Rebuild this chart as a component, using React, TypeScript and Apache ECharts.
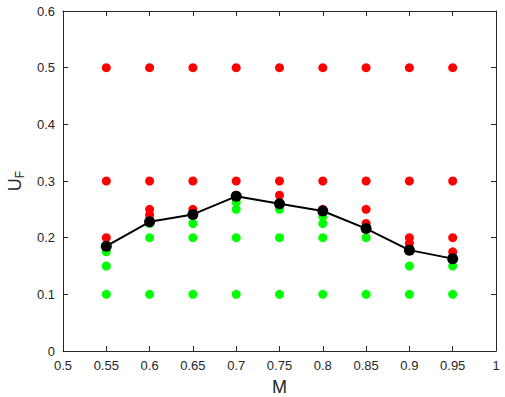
import React, { useEffect, useRef } from "react";
import * as echarts from "echarts";

const mValues = [0.55, 0.6, 0.65, 0.7, 0.75, 0.8, 0.85, 0.9, 0.95];
const redValues: number[][] = [
  [0.5, 0.3, 0.2],
  [0.5, 0.3, 0.25, 0.24],
  [0.5, 0.3, 0.25],
  [0.5, 0.3, 0.275],
  [0.5, 0.3, 0.275],
  [0.5, 0.3, 0.25],
  [0.5, 0.3, 0.25, 0.225],
  [0.5, 0.3, 0.2, 0.19],
  [0.5, 0.3, 0.2, 0.175],
];
const greenValues: number[][] = [
  [0.175, 0.15, 0.1],
  [0.225, 0.2, 0.1],
  [0.225, 0.2, 0.1],
  [0.2625, 0.25, 0.2, 0.1],
  [0.25, 0.2, 0.1],
  [0.2375, 0.225, 0.2, 0.1],
  [0.2, 0.1],
  [0.15, 0.1],
  [0.15, 0.1],
];
const boundaryValues = [0.185, 0.228, 0.241, 0.273, 0.26, 0.247, 0.216, 0.178, 0.163];

const axisColor = "#262626";
const font = "Liberation Sans, Arial, sans-serif";

export default function App() {
  const ref = useRef<HTMLDivElement>(null);
  useEffect(() => {
    if (!ref.current) return;
    const chart = echarts.init(ref.current, undefined, { renderer: "svg" });
    const red: number[][] = [];
    const green: number[][] = [];
    mValues.forEach((m, i) => {
      redValues[i].forEach((v) => red.push([m, v]));
      greenValues[i].forEach((v) => green.push([m, v]));
    });
    const line = mValues.map((m, i) => [m, boundaryValues[i]]);
    const fmt = (v: number) => String(+v.toFixed(2));
    const lineStyle = { color: axisColor, width: 1 };
    chart.setOption({
      animation: false,
      backgroundColor: "#ffffff",
      textStyle: { fontFamily: font },
      grid: {
        left: 63,
        right: 9,
        top: 11,
        bottom: 46,
        containLabel: false,
        outerBoundsMode: "none",
      },
      xAxis: [
        {
          type: "value",
          min: 0.5,
          max: 1,
          interval: 0.05,
          name: "M",
          nameLocation: "middle",
          nameGap: 27,
          nameTextStyle: { fontSize: 18, color: axisColor, fontFamily: font },
          axisLine: { show: true, onZero: false, lineStyle },
          axisTick: { show: true, inside: true, length: 5, lineStyle },
          axisLabel: { formatter: fmt, fontSize: 13, color: axisColor, margin: 8, fontFamily: font },
          splitLine: { show: false },
        },
        {
          type: "value",
          position: "top",
          min: 0.5,
          max: 1,
          interval: 0.05,
          axisLine: { show: true, onZero: false, lineStyle },
          axisTick: { show: true, inside: true, length: 5, lineStyle },
          axisLabel: { show: false },
          splitLine: { show: false },
        },
      ],
      yAxis: [
        {
          type: "value",
          min: 0,
          max: 0.6,
          interval: 0.1,
          name: "{u|U}{f|F}",
          nameLocation: "middle",
          nameGap: 37,
          nameRotate: 90,
          nameTextStyle: {
            color: axisColor,
            rich: {
              u: { fontSize: 18, color: axisColor, fontFamily: font },
              f: { fontSize: 12, color: axisColor, fontFamily: font, padding: [10, 0, 0, 0] },
            },
          },
          axisLine: { show: true, onZero: false, lineStyle },
          axisTick: { show: true, inside: true, length: 5, lineStyle },
          axisLabel: { formatter: fmt, fontSize: 13, color: axisColor, margin: 8, fontFamily: font },
          splitLine: { show: false },
        },
        {
          type: "value",
          position: "right",
          min: 0,
          max: 0.6,
          interval: 0.1,
          axisLine: { show: true, onZero: false, lineStyle },
          axisTick: { show: true, inside: true, length: 5, lineStyle },
          axisLabel: { show: false },
          splitLine: { show: false },
        },
      ],
      series: [
        {
          type: "scatter",
          name: "red",
          data: red,
          symbol: "circle",
          symbolSize: 9,
          itemStyle: { color: "#ff0000", opacity: 1 },
          z: 2,
        },
        {
          type: "scatter",
          name: "green",
          data: green,
          symbol: "circle",
          symbolSize: 9,
          itemStyle: { color: "#00ff00", opacity: 1 },
          z: 3,
        },
        {
          type: "line",
          name: "boundary",
          data: line,
          symbol: "circle",
          symbolSize: 11,
          showSymbol: true,
          lineStyle: { color: "#000000", width: 2 },
          itemStyle: { color: "#000000" },
          z: 4,
        },
      ],
    });
    return () => chart.dispose();
  }, []);
  return (
    <div
      ref={ref}
      style={{ position: "absolute", left: 0, top: 0, width: 505, height: 397 }}
    />
  );
}
